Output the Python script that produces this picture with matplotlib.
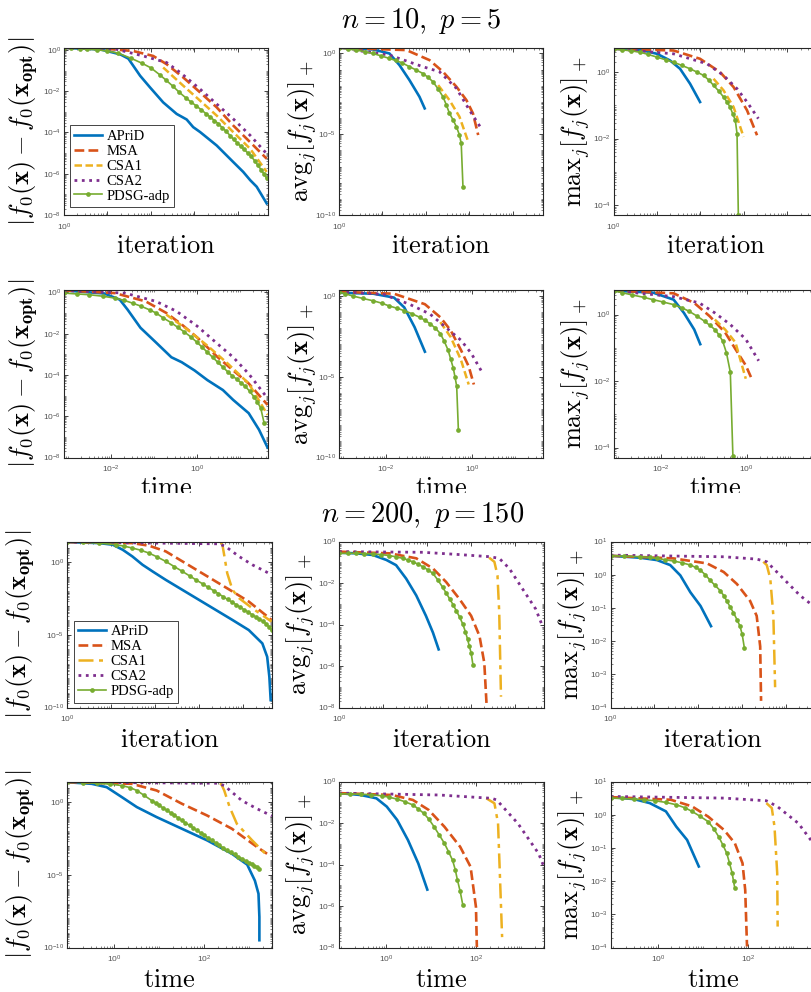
import numpy as np
import matplotlib.pyplot as plt
from matplotlib.ticker import FixedLocator, FuncFormatter
from matplotlib.patches import Rectangle
from matplotlib.transforms import Bbox, TransformedBbox

plt.rcParams['mathtext.fontset'] = 'cm'
plt.rcParams['font.family'] = ['Liberation Sans', 'DejaVu Sans']

methods = ['APriD', 'MSA', 'CSA1', 'CSA2', 'PDSG-adp']
colors = ['#0072BD', '#D95319', '#EDB120', '#7E2F8E', '#77AC30']

# all values below are log10(x), log10(y)
# ---- n = 10, p = 5, against iteration ----
s_it_gap_apri = ([0, 0.83, 1.29, 1.48, 1.75, 1.98, 2.28, 2.59, 2.82, 2.97, 3.13, 3.51, 3.89, 4.12, 4.28, 4.43, 4.66],
                 [0.1, 0.03, -0.21, -0.42, -1.25, -1.82, -2.54, -3.10, -3.37, -3.74, -3.98, -4.63, -5.43, -5.91, -6.31, -6.63, -7.44])
s_it_gap_msa = ([0, 0.83, 1.59, 2.05, 2.36, 2.74, 3.13, 3.51, 3.89, 4.28, 4.66],
                [0.1, 0.08, -0.05, -0.29, -0.69, -1.33, -2.06, -2.78, -3.66, -4.47, -5.27])
s_it_gap_csa1 = ([2.28, 2.74, 3.13, 3.51, 3.89, 4.28, 4.66],
                 [-0.85, -1.73, -2.46, -3.18, -3.98, -4.79, -5.91])
s_it_gap_csa2 = ([0, 1.21, 1.82, 2.36, 2.67, 3.13, 3.51, 3.89, 4.28, 4.66],
                 [0.1, 0.03, -0.29, -0.61, -1.09, -1.90, -2.62, -3.34, -4.14, -5.03])
s_it_gap_pdsg = ([0, 0.16, 0.36, 0.53, 0.75, 1.0, 1.25, 1.55, 1.8, 2.0, 2.2, 2.35, 2.5, 2.65, 2.8, 2.92, 3.04, 3.15,
                  3.26, 3.36, 3.46, 3.55, 3.64, 3.73, 3.82, 3.9, 3.98, 4.06, 4.14, 4.22, 4.3, 4.38, 4.46, 4.53, 4.6, 4.66],
                 [0.1, 0.09, 0.07, 0.04, 0.01, -0.05, -0.16, -0.41, -0.65, -0.87, -1.2, -1.47, -1.75, -2.05, -2.32, -2.52,
                  -2.71, -2.89, -3.08, -3.25, -3.42, -3.58, -3.77, -3.95, -4.15, -4.33, -4.5, -4.66, -4.82, -4.98, -5.15,
                  -5.36, -5.6, -5.8, -6.02, -6.23])

s_it_avg_apri = ([0, 0.78, 1.16, 1.39, 1.62, 1.85, 1.97], [0.35, 0.25, 0, -0.72, -1.65, -2.68, -3.40])
s_it_avg_msa = ([0, 1.55, 2.08, 2.39, 2.70, 2.93, 3.08, 3.20], [0.35, 0.21, -0.41, -1.13, -2.06, -2.89, -3.71, -5.05])
s_it_avg_csa1 = ([2.28, 2.54, 2.77, 2.97], [-1.96, -2.89, -3.92, -5.46])
s_it_avg_csa2 = ([0, 1.16, 1.93, 2.31, 2.70, 3.00, 3.27], [0.35, -0.10, -0.82, -1.13, -2.16, -3.51, -4.64])
s_it_avg_pdsg = ([0, 0.2, 0.4, 0.6, 0.78, 0.97, 1.16, 1.3, 1.45, 1.62, 1.78, 1.93, 2.05, 2.16, 2.28, 2.39, 2.47, 2.54,
                  2.62, 2.70, 2.77, 2.81, 2.85],
                 [0.35, 0.28, 0.21, 0.11, 0, -0.15, -0.31, -0.43, -0.58, -0.82, -1.03, -1.24, -1.48, -1.75, -2.2, -2.68,
                  -3.2, -3.71, -4.1, -4.54, -5.05, -5.57, -8.25])

s_it_max_apri = ([0, 0.61, 1.00, 1.30, 1.53, 1.76, 1.99], [0.70, 0.67, 0.55, 0.35, 0.10, -0.35, -0.90])
s_it_max_msa = ([0, 1.38, 1.99, 2.45, 2.76, 3.07, 3.30], [0.70, 0.65, 0.40, 0, -0.45, -1.15, -1.90])
s_it_max_csa1 = ([2.30, 2.53, 2.76, 2.99], [-0.20, -0.55, -1.05, -1.95])
s_it_max_csa2 = ([0, 1.38, 2.15, 2.53, 2.84, 3.07, 3.33], [0.70, 0.55, 0.25, -0.10, -0.50, -0.90, -1.40])
s_it_max_pdsg = ([0, 0.2, 0.4, 0.61, 0.8, 1.0, 1.2, 1.38, 1.57, 1.76, 1.92, 2.07, 2.2, 2.30, 2.42, 2.53, 2.61, 2.68,
                  2.74, 2.80, 2.84, 2.87],
                 [0.70, 0.67, 0.64, 0.60, 0.53, 0.45, 0.37, 0.30, 0.20, 0.10, 0.0, -0.10, -0.25, -0.40, -0.57, -0.75,
                  -0.90, -1.05, -1.25, -1.45, -1.85, -4.30])

# ---- n = 10, p = 5, against time ----
s_tm_gap_apri = ([-3.1, -2.16, -1.80, -1.62, -1.32, -0.96, -0.60, -0.36, -0.06, 0.24, 0.60, 0.84, 1.20, 1.44, 1.64],
                 [0.1, -0.05, -0.35, -0.83, -1.71, -2.42, -3.14, -3.38, -3.78, -4.25, -4.73, -5.21, -5.85, -6.65, -7.52])
s_tm_gap_msa = ([-3.1, -1.92, -1.20, -0.72, -0.36, 0, 0.48, 0.84, 1.20, 1.64],
                [0.1, -0.03, -0.43, -0.99, -1.55, -2.18, -3.14, -3.78, -4.41, -5.45])
s_tm_gap_csa1 = ([-0.72, -0.24, 0.24, 0.72, 1.20, 1.64], [-1.07, -1.78, -2.58, -3.46, -4.41, -5.93])
s_tm_gap_csa2 = ([-3.1, -1.68, -0.96, -0.48, 0, 0.48, 0.84, 1.20, 1.64],
                 [0.1, -0.03, -0.43, -0.91, -1.63, -2.50, -3.14, -3.94, -5.13])
s_tm_gap_pdsg = ([-3.1, -2.8, -2.51, -2.2, -1.92, -1.7, -1.5, -1.3, -1.1, -0.96, -0.8, -0.6, -0.45, -0.3, -0.15, 0,
                  0.12, 0.24, 0.36, 0.48, 0.6, 0.72, 0.82, 0.92, 1.02, 1.12, 1.22, 1.32, 1.4, 1.48, 1.56],
                 [-0.03, -0.07, -0.11, -0.18, -0.27, -0.38, -0.52, -0.67, -0.85, -0.99, -1.22, -1.47, -1.69, -1.91, -2.15,
                  -2.42, -2.66, -2.9, -3.14, -3.38, -3.62, -3.86, -4.04, -4.2, -4.38, -4.55, -4.78, -5.05, -5.3, -5.6, -6.33])

s_tm_avg_apri = ([-3.1, -2.30, -1.82, -1.58, -1.34, -1.10], [0.20, 0.14, -0.10, -0.71, -1.93, -3.45])
s_tm_avg_msa = ([-3.1, -1.82, -1.10, -0.74, -0.50, -0.26, -0.08, 0.04], [0.26, 0.14, -0.51, -1.32, -2.13, -3.35, -4.36, -5.48])
s_tm_avg_csa1 = ([-0.74, -0.50, -0.26, -0.08], [-1.62, -2.54, -3.96, -5.48])
s_tm_avg_csa2 = ([-3.1, -2.06, -1.46, -0.98, -0.62, -0.26, -0.02, 0.22], [0.26, 0.10, -0.51, -1.12, -1.93, -2.74, -3.55, -4.67])
s_tm_avg_pdsg = ([-3.1, -2.95, -2.78, -2.55, -2.30, -2.1, -1.94, -1.75, -1.58, -1.4, -1.22, -1.1, -0.98, -0.86, -0.74,
                  -0.65, -0.56, -0.5, -0.44, -0.4, -0.36, -0.32],
                 [0.26, 0.13, 0, -0.15, -0.30, -0.45, -0.61, -0.76, -0.91, -1.1, -1.32, -1.5, -1.72, -1.98, -2.33, -2.8,
                  -3.35, -3.9, -4.46, -5.0, -5.58, -8.32])

s_tm_max_apri = ([-3.1, -2.18, -1.70, -1.46, -1.22, -1.08], [0.72, 0.66, 0.45, 0.05, -0.45, -0.89])
s_tm_max_msa = ([-3.1, -1.70, -1.22, -0.86, -0.50, -0.26, -0.02, 0.10], [0.72, 0.64, 0.35, -0.05, -0.54, -1.04, -1.53, -1.88])
s_tm_max_csa1 = ([-0.74, -0.50, -0.26, -0.02], [-0.15, -0.45, -0.84, -1.93])
s_tm_max_csa2 = ([-3.1, -1.70, -1.10, -0.74, -0.38, -0.02, 0.28], [0.72, 0.54, 0.35, 0.05, -0.30, -0.74, -1.39])
s_tm_max_pdsg = ([-3.1, -2.9, -2.66, -2.4, -2.18, -1.95, -1.70, -1.5, -1.34, -1.15, -0.98, -0.86, -0.74, -0.65, -0.56,
                  -0.47, -0.38, -0.32],
                 [0.72, 0.66, 0.59, 0.52, 0.45, 0.38, 0.30, 0.2, 0.10, -0.05, -0.20, -0.32, -0.45, -0.6, -0.79, -1.15,
                  -1.73, -4.26])

# ---- n = 200, p = 150, against iteration ----
l_it_gap_apri = ([0, 0.73, 1.04, 1.27, 1.49, 1.72, 1.95, 2.25, 2.63, 3.01, 3.39, 3.77, 4.14, 4.45, 4.56, 4.61, 4.64],
                 [1.38, 1.31, 1.20, 0.85, 0.39, -0.18, -0.64, -1.22, -1.91, -2.60, -3.29, -3.98, -4.67, -5.59, -6.51, -7.89, -9.49])
l_it_gap_msa = ([0, 1.49, 1.87, 2.25, 2.63, 3.01, 3.39, 3.77, 4.14, 4.52, 4.66],
                [1.38, 1.31, 1.13, 0.74, 0.05, -0.64, -1.33, -2.02, -2.71, -3.63, -3.98])
l_it_gap_csa1 = ([3.50, 3.54, 3.58, 3.65, 3.77, 3.92, 4.22, 4.66], [1.38, 1.2, 0.5, -0.76, -1.91, -2.48, -3.17, -4.09])
l_it_gap_csa2 = ([0, 3.46, 3.61, 3.92, 4.22, 4.52, 4.66], [1.38, 1.26, 1.08, 0.39, -0.18, -0.64, -0.87])
l_it_gap_pdsg = ([0, 0.36, 0.73, 1.11, 1.3, 1.49, 1.68, 1.87, 2.06, 2.25, 2.44, 2.63, 2.8, 2.95, 3.1, 3.22, 3.34, 3.45,
                  3.56, 3.66, 3.76, 3.86, 3.95, 4.04, 4.13, 4.22, 4.3, 4.38, 4.46, 4.53, 4.6, 4.66],
                 [1.38, 1.36, 1.31, 1.20, 1.1, 0.97, 0.82, 0.62, 0.35, 0.05, -0.3, -0.64, -0.96, -1.24, -1.51, -1.74,
                  -1.96, -2.17, -2.38, -2.57, -2.75, -2.94, -3.11, -3.28, -3.45, -3.62, -3.77, -3.92, -4.06, -4.23, -4.45, -4.67])

l_it_avg_apri = ([0, 0.39, 0.77, 1.08, 1.30, 1.53, 1.76, 1.98, 2.14, 2.27], [-0.54, -0.57, -0.65, -0.89, -1.14, -1.79, -2.60, -3.58, -4.39, -5.20])
l_it_avg_msa = ([0, 1.15, 1.76, 2.14, 2.44, 2.74, 3.01, 3.20, 3.31, 3.36], [-0.49, -0.57, -0.81, -1.30, -1.95, -2.76, -3.58, -4.55, -5.85, -7.80])
l_it_avg_csa1 = ([3.42, 3.54, 3.61, 3.65, 3.69], [-0.78, -0.98, -1.63, -3.41, -7.48])
l_it_avg_csa2 = ([0, 1.91, 2.67, 3.42, 3.65, 3.88, 4.18, 4.48, 4.65], [-0.49, -0.52, -0.62, -0.73, -0.81, -1.30, -2.28, -3.25, -4.15])
l_it_avg_pdsg = ([0, 0.2, 0.39, 0.58, 0.77, 0.96, 1.15, 1.3, 1.45, 1.57, 1.68, 1.8, 1.91, 2.03, 2.14, 2.25, 2.36, 2.44,
                  2.52, 2.6, 2.67, 2.75, 2.82, 2.88, 2.93, 2.97, 3.01, 3.05],
                 [-0.57, -0.57, -0.57, -0.58, -0.60, -0.63, -0.68, -0.74, -0.81, -0.89, -0.98, -1.09, -1.22, -1.37, -1.54,
                  -1.85, -2.20, -2.48, -2.76, -3.05, -3.33, -3.65, -3.98, -4.35, -4.72, -5.05, -5.37, -5.93])

l_it_max_apri = ([0, 0.68, 1.06, 1.36, 1.59, 1.82, 2.05, 2.29], [0.57, 0.51, 0.44, 0.29, -0.02, -0.53, -0.94, -1.55])
l_it_max_msa = ([0, 1.44, 2.20, 2.58, 2.88, 3.18, 3.33, 3.41, 3.43], [0.57, 0.49, 0.34, 0.08, -0.28, -0.79, -1.24, -2.16, -3.80])
l_it_max_csa1 = ([3.48, 3.56, 3.64, 3.71, 3.75], [0.39, 0.29, -0.12, -1.24, -3.39])
l_it_max_csa2 = ([0, 2.58, 3.33, 3.56, 3.94, 4.32, 4.62, 4.66], [0.59, 0.54, 0.47, 0.39, -0.12, -0.63, -0.94, -1.0])
l_it_max_pdsg = ([0, 0.3, 0.68, 0.9, 1.06, 1.25, 1.44, 1.63, 1.82, 1.94, 2.05, 2.16, 2.27, 2.38, 2.50, 2.58, 2.65, 2.72,
                  2.80, 2.88, 2.95, 3.0, 3.05],
                 [0.57, 0.56, 0.54, 0.52, 0.49, 0.45, 0.41, 0.36, 0.29, 0.22, 0.13, 0.0, -0.17, -0.32, -0.48, -0.63, -0.79,
                  -0.96, -1.14, -1.35, -1.55, -1.8, -2.21])

# ---- n = 200, p = 150, against time ----
l_tm_gap_apri = ([-1.05, -0.50, -0.17, 0.17, 0.50, 0.94, 1.50, 2.06, 2.61, 2.95, 3.12, 3.2, 3.22, 3.22],
                 [1.37, 1.26, 1.03, 0.34, -0.34, -1.03, -1.83, -2.63, -3.55, -4.3, -5.4, -6.3, -7.9, -9.5])
l_tm_gap_msa = ([-1.05, 0.39, 0.94, 1.50, 2.06, 2.61, 3.17, 3.39], [1.37, 1.26, 0.80, -0.11, -0.92, -1.83, -3.09, -3.55])
l_tm_gap_csa1 = ([2.35, 2.39, 2.44, 2.56, 2.72, 3.06, 3.39], [1.3, 1.14, 0.80, -0.34, -1.49, -2.63, -3.66])
l_tm_gap_csa2 = ([-1.05, 2.28, 2.44, 2.83, 3.17, 3.5], [1.37, 1.30, 1.14, 0.11, -0.46, -0.95])
l_tm_gap_pdsg = ([-1.05, -0.7, -0.39, -0.1, 0.17, 0.35, 0.50, 0.66, 0.83, 0.92, 1.0, 1.08, 1.17, 1.25, 1.33, 1.42, 1.50,
                  1.58, 1.67, 1.75, 1.83, 1.92, 2.0, 2.08, 2.17, 2.25, 2.33, 2.42, 2.50, 2.58, 2.67, 2.75, 2.83, 2.92,
                  3.0, 3.05, 3.1, 3.16, 3.22],
                 [1.37, 1.34, 1.30, 1.24, 1.14, 1.0, 0.80, 0.47, 0.11, -0.07, -0.23, -0.40, -0.57, -0.73, -0.9, -1.08,
                  -1.26, -1.43, -1.6, -1.77, -1.95, -2.12, -2.29, -2.46, -2.63, -2.8, -2.97, -3.15, -3.32, -3.46, -3.6,
                  -3.75, -3.89, -4.05, -4.2, -4.28, -4.37, -4.47, -4.58])

l_tm_avg_apri = ([-1.05, -0.57, -0.22, 0.01, 0.24, 0.48, 0.71, 0.91], [-0.56, -0.65, -0.81, -1.21, -1.85, -2.82, -3.95, -5.21])
l_tm_avg_msa = ([-1.05, 0.13, 0.59, 0.94, 1.29, 1.64, 1.87, 1.99, 2.01], [-0.56, -0.65, -0.89, -1.37, -2.18, -3.15, -4.11, -6.05, -7.98])
l_tm_avg_csa1 = ([2.22, 2.40, 2.48, 2.52, 2.57], [-0.81, -1.05, -2.02, -4.44, -7.50])
l_tm_avg_csa2 = ([-1.05, 1.17, 2.34, 2.45, 2.92, 3.38, 3.50], [-0.56, -0.65, -0.81, -0.89, -2.02, -3.47, -4.11])
l_tm_avg_pdsg = ([-1.05, -0.8, -0.57, -0.33, -0.10, 0.07, 0.24, 0.42, 0.59, 0.71, 0.83, 0.95, 1.06, 1.17, 1.29, 1.38,
                  1.47, 1.53, 1.58, 1.64, 1.70],
                 [-0.60, -0.60, -0.61, -0.64, -0.69, -0.76, -0.85, -0.98, -1.13, -1.32, -1.53, -1.83, -2.18, -2.56, -2.98,
                  -3.38, -3.79, -4.25, -4.76, -5.3, -5.97])

l_tm_max_apri = ([-1.05, -0.53, -0.18, 0.18, 0.41, 0.65, 0.91], [0.53, 0.47, 0.35, 0.10, -0.36, -0.76, -1.56])
l_tm_max_msa = ([-1.05, 0.29, 0.76, 1.12, 1.47, 1.71, 1.88, 1.94, 1.98], [0.53, 0.45, 0.25, -0.06, -0.46, -0.86, -1.46, -2.27, -3.97])
l_tm_max_csa1 = ([2.41, 2.53, 2.59, 2.65, 2.66], [0.35, 0.20, -0.36, -1.76, -3.37])
l_tm_max_csa2 = ([-1.05, 1.47, 2.41, 2.65, 3.12, 3.45, 3.5], [0.55, 0.50, 0.42, 0.25, -0.26, -0.86, -0.92])
l_tm_max_pdsg = ([-1.05, -0.8, -0.53, -0.3, -0.06, 0.18, 0.41, 0.6, 0.76, 0.94, 1.12, 1.24, 1.35, 1.44, 1.53, 1.59,
                  1.65, 1.68, 1.71],
                 [0.50, 0.49, 0.47, 0.45, 0.42, 0.37, 0.30, 0.21, 0.10, -0.05, -0.21, -0.42, -0.66, -0.9, -1.16, -1.45,
                  -1.76, -2.0, -2.22])

# axis ranges (log10)
s_it_xlim = (0, 4.69)
s_tm_xlim = (-3.1, 1.65)
l_it_xlim = (0, 4.67)
l_tm_xlim = (-1.05, 3.5)
s_gap_ylim, s_avg_ylim, s_max_ylim = (-8, 0.12), (-10, 0.37), (-4.3, 0.74)
l_gap_ylim, l_avg_ylim, l_max_ylim = (-10, 1.42), (-8, 0), (-4, 1)

gap_label = r'$|f_0(\mathbf{x}) - f_0(\mathbf{x}_{\mathbf{opt}})|$'
avg_label = r'$\mathrm{avg}_j[f_j(\mathbf{x})]_+$'
max_label = r'$\mathrm{max}_j[f_j(\mathbf{x})]_+$'

W, H = 811, 992
fig = plt.figure(figsize=(W / 100, H / 100), dpi=100)
cut_y = 1 - 493 / H   # bottom edge of the cropped upper figure


def place(left, top, bottom, width):
    return fig.add_axes([left / W, 1 - bottom / H, width / W, (bottom - top) / H])


def sci(v, pos):
    return r'$\mathdefault{10^{%d}}$' % int(round(np.log10(v)))


def draw(ax, series, xlim, ylim, yticks, xticks, xlabels, csa1_style):
    styles = ['-', (0, (3.7, 1.6)), csa1_style, ':', '-']
    widths = [1.9, 1.9, 1.8, 2.0, 1.2]
    for k, (lx, ly) in enumerate(series):
        x = np.power(10.0, lx)
        y = np.power(10.0, ly)
        if k == 4:
            ax.plot(x, y, color=colors[k], lw=widths[k], ls='-', marker='o', ms=3.4, mew=0, label=methods[k])
        else:
            ax.plot(x, y, color=colors[k], lw=widths[k], ls=styles[k], label=methods[k])
    ax.set_xscale('log')
    ax.set_yscale('log')
    ax.set_xlim(10.0 ** xlim[0], 10.0 ** xlim[1])
    ax.set_ylim(10.0 ** ylim[0], 10.0 ** ylim[1])
    ax.yaxis.set_major_locator(FixedLocator([10.0 ** e for e in yticks]))
    ax.yaxis.set_major_formatter(FuncFormatter(sci))
    ax.xaxis.set_major_locator(FixedLocator([10.0 ** e for e in xticks]))
    ax.xaxis.set_major_formatter(FuncFormatter(
        lambda v, p: sci(v, p) if int(round(np.log10(v))) in xlabels else ''))
    minor_y = [m * 10.0 ** e for e in range(-12, 3) for m in range(1, 10)]
    minor_x = [m * 10.0 ** e for e in range(-5, 6) for m in range(1, 10)]
    ax.yaxis.set_minor_locator(FixedLocator(minor_y))
    ax.xaxis.set_minor_locator(FixedLocator(minor_x))
    ax.xaxis.set_minor_formatter(FuncFormatter(lambda v, p: ''))
    ax.yaxis.set_minor_formatter(FuncFormatter(lambda v, p: ''))
    ax.tick_params(which='both', direction='in', top=True, right=True, color='#262626',
                   labelsize=6, labelcolor='#555555', pad=2)
    ax.tick_params(axis='x', which='major', pad=4.5)
    ax.tick_params(which='major', length=3, width=0.6)
    ax.tick_params(which='minor', length=1.5, width=0.4)
    for sp in ax.spines.values():
        sp.set_linewidth(0.8)
        sp.set_color('#262626')


def labels(ax, ylab, ylx, xlab, xly, clip=False):
    ax.set_ylabel(ylab, fontsize=19, va='center', ha='center')
    ax.yaxis.set_label_coords(ylx, 0.5)
    lbl = ax.set_xlabel(r'$\mathrm{%s}$' % xlab, fontsize=19, va='center')
    ax.xaxis.set_label_coords(0.5, xly)
    if clip:
        lbl.set_clip_box(TransformedBbox(Bbox([[0, cut_y], [1, 1]]), fig.transFigure))
        lbl.set_clip_on(True)


def add_legend(ax, x0, y0):
    leg = ax.legend(loc='lower left', bbox_to_anchor=(x0, y0), borderaxespad=0,
                    prop={'family': 'Liberation Serif', 'size': 10.5}, fancybox=False,
                    edgecolor='#262626', framealpha=1, labelspacing=0.12,
                    handlelength=1.9, handletextpad=0.3, borderpad=0.3)
    leg.get_frame().set_linewidth(0.6)


# ---------------- top figure: n = 10, p = 5 ----------------
top_cols = [64, 339, 613.5]
bot_cols = [67, 339, 610.5]
cw = 204
short_dash = (0, (3, 1.4))

ax = place(top_cols[0], 47.5, 215, cw)
draw(ax, [s_it_gap_apri, s_it_gap_msa, s_it_gap_csa1, s_it_gap_csa2, s_it_gap_pdsg],
     s_it_xlim, s_gap_ylim, [0, -2, -4, -6, -8], [0, 1, 2, 3, 4], [0], short_dash)
labels(ax, gap_label, -0.2, 'iteration', -0.185)
add_legend(ax, 0.03, 0.048)

ax = place(top_cols[1], 47.5, 215, cw)
draw(ax, [s_it_avg_apri, s_it_avg_msa, s_it_avg_csa1, s_it_avg_csa2, s_it_avg_pdsg],
     s_it_xlim, s_avg_ylim, [0, -5, -10], [0, 1, 2, 3, 4], [0], short_dash)
labels(ax, avg_label, -0.18, 'iteration', -0.185)

ax = place(top_cols[2], 47.5, 215, cw)
draw(ax, [s_it_max_apri, s_it_max_msa, s_it_max_csa1, s_it_max_csa2, s_it_max_pdsg],
     s_it_xlim, s_max_ylim, [0, -2, -4], [0, 1, 2, 3, 4], [0], short_dash)
labels(ax, max_label, -0.185, 'iteration', -0.185)

ax = place(top_cols[0], 290, 457.5, cw)
draw(ax, [s_tm_gap_apri, s_tm_gap_msa, s_tm_gap_csa1, s_tm_gap_csa2, s_tm_gap_pdsg],
     s_tm_xlim, s_gap_ylim, [0, -2, -4, -6, -8], [-2, 0], [-2, 0], short_dash)
labels(ax, gap_label, -0.2, 'time', -0.185, clip=True)

ax = place(top_cols[1], 290, 457.5, cw)
draw(ax, [s_tm_avg_apri, s_tm_avg_msa, s_tm_avg_csa1, s_tm_avg_csa2, s_tm_avg_pdsg],
     s_tm_xlim, s_avg_ylim, [0, -5, -10], [-2, 0], [-2, 0], short_dash)
labels(ax, avg_label, -0.18, 'time', -0.185, clip=True)

ax = place(top_cols[2], 290, 457.5, cw)
draw(ax, [s_tm_max_apri, s_tm_max_msa, s_tm_max_csa1, s_tm_max_csa2, s_tm_max_pdsg],
     s_tm_xlim, s_max_ylim, [0, -2, -4], [-2, 0], [-2, 0], short_dash)
labels(ax, max_label, -0.185, 'time', -0.185, clip=True)

# ---------------- bottom figure: n = 200, p = 150 ----------------
dashdot = (0, (6, 2.2, 1.6, 2.2))
ax = place(bot_cols[0], 541.5, 707.5, cw + 1)
draw(ax, [l_it_gap_apri, l_it_gap_msa, l_it_gap_csa1, l_it_gap_csa2, l_it_gap_pdsg],
     l_it_xlim, l_gap_ylim, [0, -5, -10], [0, 1, 2, 3, 4], [0], dashdot)
labels(ax, gap_label, -0.225, 'iteration', -0.195)
add_legend(ax, 0.034, 0.029)

ax = place(bot_cols[1], 541.5, 707.5, cw + 1)
draw(ax, [l_it_avg_apri, l_it_avg_msa, l_it_avg_csa1, l_it_avg_csa2, l_it_avg_pdsg],
     l_it_xlim, l_avg_ylim, [0, -2, -4, -6, -8], [0, 1, 2, 3, 4], [0], dashdot)
labels(ax, avg_label, -0.19, 'iteration', -0.195)

ax = place(bot_cols[2], 541.5, 707.5, cw + 1)
draw(ax, [l_it_max_apri, l_it_max_msa, l_it_max_csa1, l_it_max_csa2, l_it_max_pdsg],
     l_it_xlim, l_max_ylim, [1, 0, -1, -2, -3, -4], [0, 1, 2, 3, 4], [0], dashdot)
labels(ax, max_label, -0.184, 'iteration', -0.195)

ax = place(bot_cols[0], 781.5, 947.5, cw + 1)
draw(ax, [l_tm_gap_apri, l_tm_gap_msa, l_tm_gap_csa1, l_tm_gap_csa2, l_tm_gap_pdsg],
     l_tm_xlim, l_gap_ylim, [0, -5, -10], [0, 2], [0, 2], dashdot)
labels(ax, gap_label, -0.225, 'time', -0.195)

ax = place(bot_cols[1], 781.5, 947.5, cw + 1)
draw(ax, [l_tm_avg_apri, l_tm_avg_msa, l_tm_avg_csa1, l_tm_avg_csa2, l_tm_avg_pdsg],
     l_tm_xlim, l_avg_ylim, [0, -2, -4, -6, -8], [0, 2], [0, 2], dashdot)
labels(ax, avg_label, -0.19, 'time', -0.195)

ax = place(bot_cols[2], 781.5, 947.5, cw + 1)
draw(ax, [l_tm_max_apri, l_tm_max_msa, l_tm_max_csa1, l_tm_max_csa2, l_tm_max_pdsg],
     l_tm_xlim, l_max_ylim, [1, 0, -1, -2, -3, -4], [0, 2], [0, 2], dashdot)
labels(ax, max_label, -0.184, 'time', -0.195)

# the two source figures were cropped and stacked: keep the cut clean
fig.patches.append(Rectangle((0, 1 - 504 / H), 1, 11 / H, transform=fig.transFigure,
                             facecolor='white', edgecolor='none', zorder=10))
fig.text(421 / W, 1 - 21 / H, r'$n = 10,\ p = 5$', fontsize=20.5, ha='center', va='center', zorder=11)
fig.text(423 / W, 1 - 515 / H, r'$n = 200,\ p = 150$', fontsize=20.5, ha='center', va='center', zorder=11)

fig.savefig('out.png', dpi=100)
